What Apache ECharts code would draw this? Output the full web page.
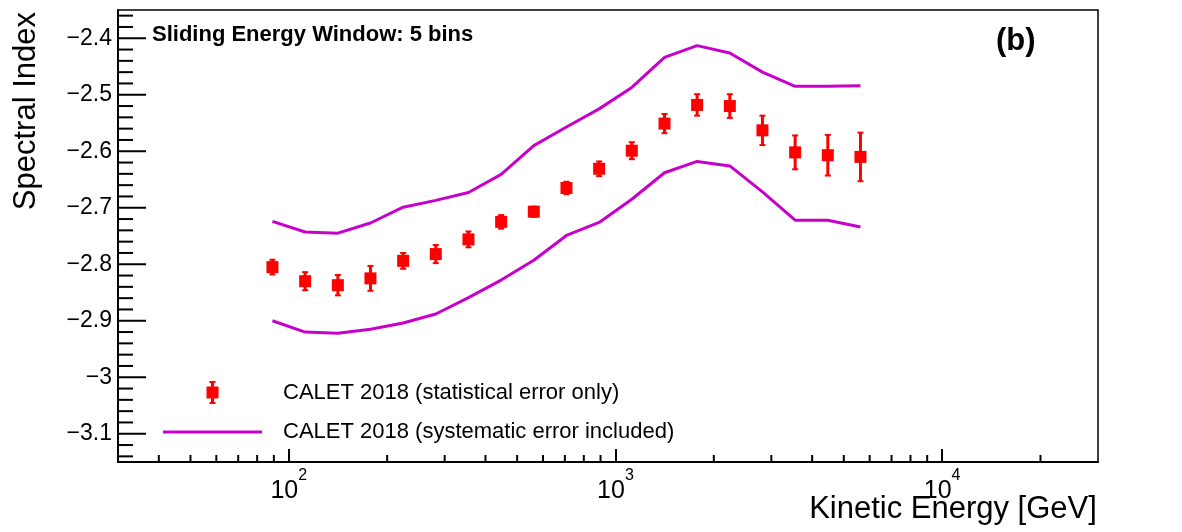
<!DOCTYPE html>
<html><head><meta charset="utf-8">
<script src="https://cdn.jsdelivr.net/npm/echarts@6/dist/echarts.min.js"></script>
<style>html,body{margin:0;padding:0;background:#fff}#c{width:1182px;height:532px}</style>
</head><body><div id="c"></div>
<script>
// ---- data ----
const energies = [89.1, 112.2, 141.3, 177.8, 223.9, 281.8, 354.8, 446.7, 562.3, 707.9, 891.3, 1122, 1413, 1778, 2239, 2818, 3548, 4467, 5623];
const spectralIndex = [-2.805, -2.830, -2.837, -2.825, -2.794, -2.782, -2.756, -2.725, -2.707, -2.665, -2.631, -2.599, -2.551, -2.518, -2.520, -2.563, -2.602, -2.607, -2.610];
const statErr = [0.013, 0.016, 0.018, 0.022, 0.014, 0.016, 0.014, 0.012, 0.009, 0.011, 0.013, 0.015, 0.017, 0.019, 0.021, 0.026, 0.030, 0.036, 0.043];
const sysUpper = [-2.724, -2.743, -2.745, -2.727, -2.699, -2.687, -2.673, -2.641, -2.590, -2.557, -2.525, -2.487, -2.434, -2.413, -2.426, -2.460, -2.485, -2.485, -2.484];
const sysLower = [-2.900, -2.920, -2.922, -2.915, -2.904, -2.888, -2.859, -2.828, -2.793, -2.749, -2.726, -2.685, -2.638, -2.618, -2.626, -2.672, -2.722, -2.722, -2.734];

const yMajorTicks = [-3.1, -3.0, -2.9, -2.8, -2.7, -2.6, -2.5, -2.4];
const yMinorTicks = [-3.14, -3.12, -3.08, -3.06, -3.04, -3.02, -2.98, -2.96, -2.94, -2.92, -2.88, -2.86, -2.84, -2.82,
  -2.78, -2.76, -2.74, -2.72, -2.68, -2.66, -2.64, -2.62, -2.58, -2.56, -2.54, -2.52, -2.48, -2.46, -2.44, -2.42, -2.38, -2.36];
const xMinorTicks = [40, 50, 60, 70, 80, 90, 200, 300, 400, 500, 600, 700, 800, 900, 2000, 3000, 4000, 5000, 6000, 7000, 8000, 9000, 20000];

const STAT_NAME = 'CALET 2018 (statistical error only)';
const SYS_NAME = 'CALET 2018 (systematic error included)';
const TITLE = 'Sliding Energy Window: 5 bins';
const PANEL = '(b)';
const X_NAME = 'Kinetic Energy [GeV]';
const Y_NAME = 'Spectral Index';

const X_MIN = 30, X_MAX = 30000, Y_MIN = -3.15, Y_MAX = -2.35;
const FONT = '"Liberation Sans", Arial, Helvetica, sans-serif';
const RED = '#ff0000';
const MAG = '#c800cc';

const chart = echarts.init(document.getElementById('c'), null, {renderer: 'canvas'});

function yLabel(v) {
  const r = Math.round(v * 100) / 100;
  if (Math.abs(Math.round(r * 10) - r * 10) > 1e-6) return '';
  return (r < 0 ? '\u2212' : '') + String(Math.abs(Math.round(r * 10) / 10));
}
function xLabel(v) {
  const e = Math.log10(v);
  if (Math.abs(e - Math.round(e)) > 1e-6) return '';
  return '{b|10}{s|' + Math.round(e) + '}';
}

const option = {
  animation: false,
  backgroundColor: '#fff',
  grid: {left: 118, right: 84, top: 10, bottom: 70, containLabel: false, outerBoundsMode: 'none',
    show: true, borderColor: '#000', borderWidth: 1.5, backgroundColor: 'transparent'},
  title: [
    {text: TITLE, left: 152, top: 24, padding: 0, textStyle: {fontFamily: FONT, fontSize: 22, fontWeight: 'bold', color: '#000'}},
    {text: PANEL, left: 996, top: 26, padding: 0, textStyle: {fontFamily: FONT, fontSize: 31, fontWeight: 'bold', color: '#000'}}
  ],
  legend: {
    orient: 'vertical', left: 163, top: 381, itemWidth: 99, itemHeight: 23, itemGap: 17, padding: 0,
    selectedMode: false,
    textStyle: {fontFamily: FONT, fontSize: 22, color: '#000', padding: [0, 0, 0, 16]},
    data: [
      {name: STAT_NAME, icon: 'path://M0,5.5 L12,5.5 L12,17.5 L0,17.5 Z M4.5,0 L7.5,0 L7.5,23 L4.5,23 Z M3,0 L9,0 L9,2 L3,2 Z M3,21 L9,21 L9,23 L3,23 Z'},
      {name: SYS_NAME, icon: 'path://M0,0 L99,0 L99,3 L0,3 Z'}
    ]
  },
  xAxis: {
    type: 'log', logBase: 10, min: X_MIN, max: X_MAX,
    axisLine: {lineStyle: {color: '#000', width: 2}},
    axisTick: {inside: true, length: 13, lineStyle: {color: '#000', width: 2}},
    splitLine: {show: false},
    axisLabel: {
      formatter: xLabel, margin: 6, showMinLabel: false, showMaxLabel: false,
      rich: {
        b: {fontFamily: FONT, fontSize: 25, color: '#000', lineHeight: 36, verticalAlign: 'bottom'},
        s: {fontFamily: FONT, fontSize: 16, color: '#000', lineHeight: 16, verticalAlign: 'top'}
      }
    },
    name: X_NAME, nameLocation: 'middle', nameGap: 32, nameMoveOverlap: false,
    nameTextStyle: {fontFamily: FONT, fontSize: 31, color: '#000', align: 'center', verticalAlign: 'top', padding: [0, 0, 0, 690]}
  },
  yAxis: {
    type: 'value', min: Y_MIN, max: Y_MAX, interval: 0.05,
    axisLine: {lineStyle: {color: '#000', width: 2}},
    axisTick: {show: false},
    splitLine: {show: false},
    axisLabel: {formatter: yLabel, fontFamily: FONT, fontSize: 23, color: '#000', margin: 6, showMinLabel: false, showMaxLabel: false},
    name: Y_NAME, nameLocation: 'end', nameGap: -2, nameRotate: 90, nameMoveOverlap: false,
    nameTextStyle: {fontFamily: FONT, fontSize: 31, color: '#000', align: 'right', verticalAlign: 'bottom', padding: [0, 0, 76, 0]}
  },
  series: [
    {
      name: SYS_NAME, type: 'line', symbol: 'none', color: MAG,
      lineStyle: {color: MAG, width: 3},
      data: energies.map((e, i) => [e, sysUpper[i]]), z: 3
    },
    {
      name: SYS_NAME, type: 'line', symbol: 'none', color: MAG,
      lineStyle: {color: MAG, width: 3},
      data: energies.map((e, i) => [e, sysLower[i]]), z: 3
    },
    {
      name: STAT_NAME, type: 'custom', color: RED, itemStyle: {color: RED}, z: 4,
      encode: {x: 0, y: 1},
      data: energies.map((e, i) => [e, spectralIndex[i], statErr[i]]),
      renderItem: function (params, api) {
        const x = api.value(0), y = api.value(1), e = api.value(2);
        const c = api.coord([x, y]);
        const t = api.coord([x, y + e]);
        const b = api.coord([x, y - e]);
        return {type: 'group', children: [
          {type: 'line', shape: {x1: c[0], y1: t[1], x2: c[0], y2: b[1]}, style: {stroke: RED, lineWidth: 3}},
          {type: 'line', shape: {x1: c[0] - 3, y1: t[1], x2: c[0] + 3, y2: t[1]}, style: {stroke: RED, lineWidth: 2}},
          {type: 'line', shape: {x1: c[0] - 3, y1: b[1], x2: c[0] + 3, y2: b[1]}, style: {stroke: RED, lineWidth: 2}},
          {type: 'rect', shape: {x: c[0] - 6, y: c[1] - 6, width: 12, height: 12}, style: {fill: RED}}
        ]};
      }
    },
    {
      name: 'yticks', type: 'custom', silent: true, clip: false, z: 5,
      encode: {x: 0, y: 1},
      data: yMajorTicks.map(v => [X_MIN, v, 28]).concat(yMinorTicks.map(v => [X_MIN, v, 15])),
      renderItem: function (params, api) {
        const p = api.coord([api.value(0), api.value(1)]);
        return {type: 'line', shape: {x1: p[0], y1: p[1], x2: p[0] + api.value(2), y2: p[1]}, style: {stroke: '#000', lineWidth: 2}};
      }
    },
    {
      name: 'xticks', type: 'custom', silent: true, clip: false, z: 5,
      encode: {x: 0, y: 1},
      data: xMinorTicks.map(v => [v, Y_MIN, 7]),
      renderItem: function (params, api) {
        const p = api.coord([api.value(0), api.value(1)]);
        return {type: 'line', shape: {x1: p[0], y1: p[1], x2: p[0], y2: p[1] - api.value(2)}, style: {stroke: '#000', lineWidth: 2}};
      }
    }
  ]
};
chart.setOption(option);
</script>
</body></html>
